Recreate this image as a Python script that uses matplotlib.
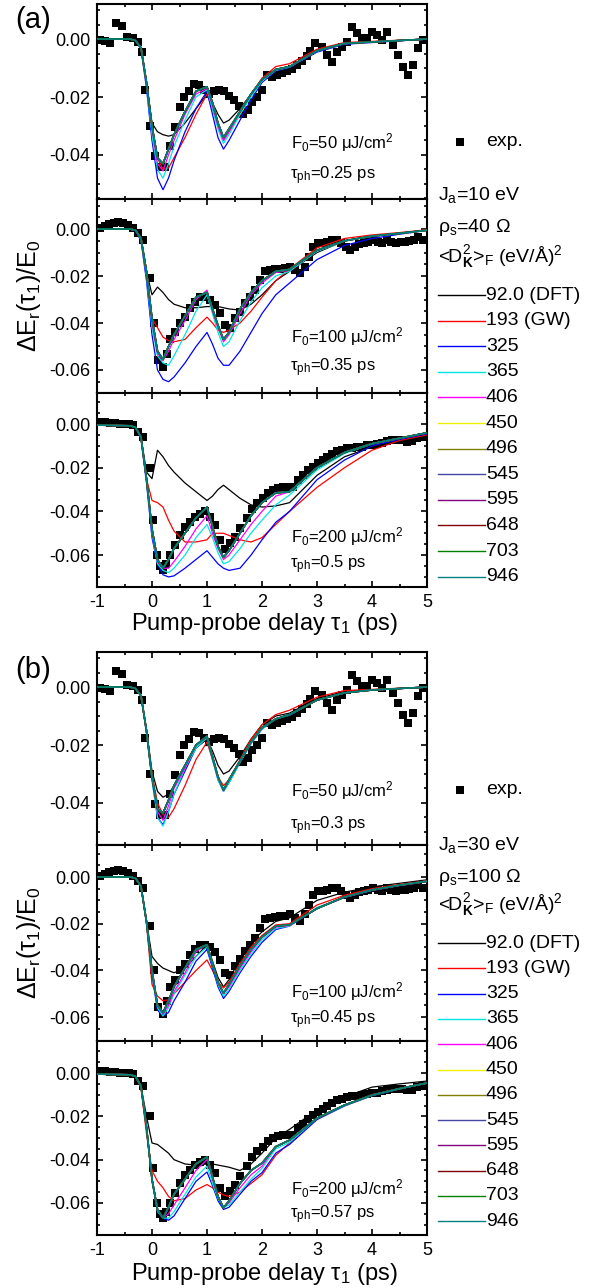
import numpy as np
import matplotlib
matplotlib.use('Agg')
import matplotlib.pyplot as plt
from matplotlib.lines import Line2D
from matplotlib.ticker import MultipleLocator, FormatStrFormatter

plt.rcParams['font.family'] = ['Liberation Sans', 'DejaVu Sans']
plt.rcParams['mathtext.fontset'] = 'custom'
plt.rcParams['mathtext.rm'] = 'Liberation Sans'
plt.rcParams['mathtext.it'] = 'Liberation Sans:italic'
plt.rcParams['mathtext.bf'] = 'Liberation Sans:bold'
plt.rcParams['axes.unicode_minus'] = False

W, H = 591, 1288

# ---------------- data ----------------
labels = ['92.0 (DFT)', '193 (GW)', '325', '365', '406', '450', '496',
          '545', '595', '648', '703', '946']
colors = ['black', '#ff0000', '#0000ff', '#00e5e5', '#ff00ff', '#f0f000',
          '#808000', '#4545a5', '#800080', '#800000', '#008000', '#008080']

# model delay grid (ps)
x_model = [-1.0, -0.4, -0.3, -0.2, -0.1, 0.0, 0.1, 0.2, 0.3, 0.4, 0.6, 0.8, 1.0,
           1.1, 1.2, 1.3, 1.4, 1.6, 1.8, 2.0, 2.25, 2.5, 3.0, 3.5, 4.0, 4.5, 5.0]

# experiment, F0 = 50 uJ/cm2
x_exp50 = [-0.95, -0.85, -0.76, -0.65, -0.55, -0.45, -0.35, -0.26, -0.19, -0.12,
           -0.04, 0.05, 0.14, 0.23, 0.32, 0.41, 0.50, 0.59, 0.68, 0.77, 0.86,
           0.95, 1.04, 1.13, 1.22, 1.31, 1.40, 1.49, 1.58, 1.66, 1.74, 1.82,
           1.91, 2.00, 2.09, 2.18, 2.27, 2.36, 2.45, 2.54, 2.63, 2.72, 2.81,
           2.88, 2.96, 3.09, 3.18, 3.27, 3.36, 3.45, 3.54, 3.63, 3.72, 3.81,
           3.90, 4.00, 4.09, 4.18, 4.27, 4.38, 4.47, 4.56, 4.65, 4.75, 4.84, 4.93]
y_exp50 = [-0.0003, -0.0008, -0.0013, 0.0055, 0.0045, 0.0007, 0.0005, -0.0010,
           -0.0045, -0.0176, -0.0300, -0.0405, -0.0440, -0.0440, -0.0370,
           -0.0305, -0.0235, -0.0200, -0.0180, -0.0155, -0.0160, -0.0175,
           -0.0190, -0.0180, -0.0175, -0.0180, -0.0195, -0.0210, -0.0230,
           -0.0260, -0.0245, -0.0217, -0.0200, -0.0176, -0.0124, -0.0130,
           -0.0124, -0.0117, -0.0110, -0.0105, -0.0090, -0.0075, -0.0060,
           -0.0040, -0.0014, -0.0028, -0.0055, -0.0079, -0.0045, -0.0028,
           -0.0010, 0.0041, 0.0020, 0.0003, 0.0003, 0.0024, 0.0014, -0.0003,
           0.0024, -0.0020, -0.0055, -0.0097, -0.0124, -0.0090, -0.0031, -0.0003]

# experiment, F0 = 100 uJ/cm2
x_exp100 = [-0.95, -0.86, -0.78, -0.70, -0.62, -0.53, -0.44, -0.35, -0.26, -0.16,
            -0.04, 0.04, 0.11, 0.20, 0.27, 0.33, 0.42, 0.51, 0.60, 0.69, 0.78,
            0.87, 0.96, 1.05, 1.14, 1.24, 1.33, 1.42, 1.50, 1.60, 1.69, 1.78,
            1.87, 1.96, 2.05, 2.14, 2.23, 2.32, 2.41, 2.50, 2.60, 2.69, 2.78,
            2.85, 2.93, 3.02, 3.10, 3.18, 3.27, 3.36, 3.44, 3.52, 3.60, 3.69,
            3.77, 3.85, 3.93, 4.02, 4.10, 4.18, 4.27, 4.35, 4.43, 4.52, 4.60,
            4.68, 4.76, 4.84, 4.93]
y_exp100 = [0.0004, 0.0012, 0.0020, 0.0025, 0.0030, 0.0025, 0.0017, 0.0004,
            -0.0017, -0.0047, -0.0210, -0.0400, -0.0557, -0.0587, -0.0530,
            -0.0470, -0.0440, -0.0400, -0.0374, -0.0336, -0.0310, -0.0290,
            -0.0290, -0.0300, -0.0323, -0.0357, -0.0410, -0.0420, -0.0380,
            -0.0353, -0.0315, -0.0290, -0.0260, -0.0217, -0.0180, -0.0174,
            -0.0172, -0.0168, -0.0166, -0.0160, -0.0174, -0.0187, -0.0160,
            -0.0120, -0.0077, -0.0060, -0.0058, -0.0055, -0.0047, -0.0047,
            -0.0060, -0.0077, -0.0090, -0.0077, -0.0065, -0.0060, -0.0055,
            -0.0047, -0.0055, -0.0060, -0.0047, -0.0055, -0.0060, -0.0055,
            -0.0055, -0.0050, -0.0047, -0.0034, -0.0047]

# experiment, F0 = 200 uJ/cm2
x_exp200 = [-0.95, -0.86, -0.77, -0.68, -0.59, -0.50, -0.42, -0.35, -0.26, -0.16,
            -0.04, 0.02, 0.09, 0.15, 0.20, 0.26, 0.33, 0.42, 0.51, 0.60, 0.69,
            0.78, 0.87, 0.96, 1.05, 1.14, 1.24, 1.33, 1.42, 1.50, 1.60, 1.72,
            1.82, 1.90, 2.02, 2.11, 2.20, 2.29, 2.38, 2.47, 2.56, 2.65, 2.74,
            2.83, 2.92, 3.01, 3.10, 3.19, 3.28, 3.37, 3.46, 3.55, 3.64, 3.73,
            3.82, 3.91, 4.00, 4.09, 4.18, 4.27, 4.36, 4.45, 4.54, 4.63, 4.72,
            4.81, 4.90]
y_exp200 = [0.0010, 0.0008, 0.0006, 0.0004, 0.0002, 0.0000, -0.0002, -0.0004,
            -0.0037, -0.0060, -0.0200, -0.0440, -0.0600, -0.0650, -0.0670,
            -0.0640, -0.0600, -0.0555, -0.0510, -0.0470, -0.0450, -0.0425,
            -0.0410, -0.0400, -0.0425, -0.0460, -0.0530, -0.0570, -0.0545,
            -0.0517, -0.0476, -0.0430, -0.0390, -0.0360, -0.0340, -0.0316,
            -0.0300, -0.0292, -0.0288, -0.0288, -0.0288, -0.0255, -0.0235,
            -0.0210, -0.0195, -0.0178, -0.0165, -0.0150, -0.0138, -0.0125,
            -0.0118, -0.0112, -0.0108, -0.0106, -0.0103, -0.0098, -0.0094,
            -0.0090, -0.0085, -0.0078, -0.0073, -0.0072, -0.0075, -0.0080,
            -0.0078, -0.0066, -0.0060]

# model curves, (a) Ja=10 eV, rho_s=40 Ohm
a50_black = [0, 0, -0.0005, -0.003, -0.015, -0.029, -0.032, -0.033, -0.0335, -0.033, -0.029, -0.024, -0.019,
             -0.022, -0.026, -0.029, -0.028, -0.024, -0.019, -0.014, -0.0105, -0.0095, -0.004, -0.0015, -0.001, -0.0005, 0.0]
a50_red = [0, 0, -0.0005, -0.003, -0.015, -0.031, -0.041, -0.045, -0.0445, -0.041, -0.034, -0.026, -0.019,
           -0.024, -0.030, -0.035, -0.032, -0.026, -0.019, -0.0135, -0.0095, -0.0085, -0.0035, -0.0012, -0.0008, -0.0004, 0.0]
a50_blue = [0, 0, -0.0005, -0.0035, -0.017, -0.035, -0.048, -0.052, -0.048, -0.042, -0.032, -0.024, -0.018,
            -0.026, -0.034, -0.038, -0.035, -0.028, -0.021, -0.015, -0.011, -0.0098, -0.0045, -0.0018, -0.0012, -0.0006, -0.0001]
a50_cyan = [0, 0, -0.0005, -0.003, -0.016, -0.033, -0.045, -0.048, -0.043, -0.037, -0.028, -0.020, -0.0175,
            -0.024, -0.031, -0.036, -0.033, -0.026, -0.020, -0.0145, -0.0108, -0.0097, -0.0042, -0.0016, -0.0011, -0.0005, 0.0]
a50_magenta = [0, 0, -0.0005, -0.003, -0.0155, -0.031, -0.043, -0.0455, -0.040, -0.035, -0.026, -0.019, -0.017,
               -0.023, -0.030, -0.035, -0.032, -0.025, -0.019, -0.014, -0.0105, -0.0095, -0.004, -0.0015, -0.001, -0.0005, 0.0]
a50_rest = [0, 0, -0.0005, -0.003, -0.015, -0.030, -0.041, -0.043, -0.038, -0.033, -0.025, -0.018, -0.0165,
            -0.022, -0.029, -0.034, -0.031, -0.025, -0.019, -0.014, -0.0105, -0.0095, -0.004, -0.0015, -0.001, -0.0005, 0.0]

a100_black = [0, 0, -0.0005, -0.004, -0.018, -0.028, -0.0247, -0.027, -0.030, -0.032, -0.0335, -0.0335, -0.033,
              -0.033, -0.033, -0.0335, -0.034, -0.0345, -0.032, -0.028, -0.022, -0.018, -0.010, -0.005, -0.003, -0.0018, -0.0005]
a100_red = [0, 0, -0.0005, -0.004, -0.020, -0.038, -0.042, -0.046, -0.0475, -0.048, -0.047, -0.042, -0.0375,
            -0.040, -0.043, -0.044, -0.043, -0.040, -0.035, -0.029, -0.022, -0.017, -0.008, -0.004, -0.0025, -0.0015, -0.0003]
a100_blue = [0, 0, -0.0008, -0.005, -0.022, -0.045, -0.060, -0.064, -0.065, -0.063, -0.057, -0.050, -0.044,
             -0.049, -0.055, -0.058, -0.058, -0.052, -0.044, -0.036, -0.028, -0.023, -0.013, -0.007, -0.004, -0.0022, -0.0006]
a100_cyan = [0, 0, -0.0005, -0.0045, -0.020, -0.042, -0.054, -0.057, -0.058, -0.054, -0.045, -0.035, -0.028,
             -0.036, -0.044, -0.050, -0.048, -0.039, -0.031, -0.025, -0.020, -0.018, -0.0095, -0.0052, -0.0031, -0.0019, -0.0005]
a100_magenta = [0, 0, -0.0005, -0.004, -0.019, -0.040, -0.053, -0.056, -0.052, -0.047, -0.039, -0.030, -0.026,
                -0.035, -0.042, -0.048, -0.045, -0.036, -0.028, -0.023, -0.0185, -0.0175, -0.0092, -0.005, -0.003, -0.0018, -0.0005]
a100_rest = [0, 0, -0.0005, -0.004, -0.018, -0.038, -0.052, -0.0555, -0.050, -0.045, -0.037, -0.029, -0.027,
             -0.034, -0.041, -0.047, -0.044, -0.034, -0.027, -0.022, -0.018, -0.0172, -0.009, -0.005, -0.003, -0.0018, -0.0005]

a200_black = [-0.0005, -0.0008, -0.0015, -0.006, -0.022, -0.025, -0.012, -0.015, -0.019, -0.022, -0.027, -0.031, -0.035,
              -0.033, -0.030, -0.028, -0.030, -0.034, -0.037, -0.038, -0.0375, -0.036, -0.0235, -0.015, -0.0105, -0.0075, -0.0045]
a200_red = [-0.0005, -0.0008, -0.0015, -0.006, -0.025, -0.035, -0.036, -0.038, -0.044, -0.049, -0.054, -0.054, -0.053,
            -0.050, -0.050, -0.050, -0.051, -0.053, -0.054, -0.052, -0.046, -0.040, -0.029, -0.020, -0.012, -0.0075, -0.005]
a200_blue = [-0.0005, -0.0008, -0.0015, -0.007, -0.027, -0.052, -0.064, -0.069, -0.070, -0.0695, -0.066, -0.062, -0.058,
             -0.061, -0.064, -0.066, -0.067, -0.066, -0.060, -0.053, -0.045, -0.040, -0.0255, -0.0165, -0.010, -0.007, -0.0045]
a200_cyan = [-0.0005, -0.0008, -0.0015, -0.006, -0.026, -0.050, -0.064, -0.067, -0.068, -0.066, -0.060, -0.052, -0.046,
             -0.052, -0.059, -0.064, -0.063, -0.057, -0.050, -0.044, -0.037, -0.0325, -0.021, -0.0135, -0.0092, -0.0066, -0.004]
a200_magenta = [-0.0005, -0.0008, -0.0015, -0.006, -0.025, -0.049, -0.063, -0.066, -0.066, -0.063, -0.056, -0.048, -0.042,
                -0.050, -0.057, -0.062, -0.060, -0.053, -0.046, -0.040, -0.033, -0.031, -0.020, -0.013, -0.009, -0.0065, -0.004]
a200_rest = [-0.0005, -0.0008, -0.0015, -0.006, -0.025, -0.048, -0.062, -0.066, -0.062, -0.057, -0.050, -0.043, -0.038,
             -0.047, -0.056, -0.061, -0.058, -0.050, -0.042, -0.036, -0.0315, -0.031, -0.020, -0.013, -0.009, -0.0065, -0.004]

# model curves, (b) Ja=30 eV, rho_s=100 Ohm
b50_black = [0, 0, -0.0005, -0.003, -0.015, -0.029, -0.036, -0.038, -0.037, -0.034, -0.027, -0.021, -0.018,
             -0.022, -0.027, -0.030, -0.029, -0.024, -0.018, -0.013, -0.010, -0.009, -0.004, -0.0015, -0.001, -0.0005, 0.0]
b50_red = [0, 0, -0.0005, -0.003, -0.015, -0.030, -0.040, -0.044, -0.045, -0.042, -0.034, -0.025, -0.019,
           -0.025, -0.031, -0.034, -0.032, -0.025, -0.018, -0.013, -0.0095, -0.008, -0.0035, -0.0012, -0.0008, -0.0004, 0.0]
b50_blue = [0, 0, -0.0005, -0.003, -0.016, -0.032, -0.045, -0.0475, -0.043, -0.037, -0.029, -0.021, -0.0175,
            -0.025, -0.032, -0.036, -0.033, -0.026, -0.0195, -0.0145, -0.011, -0.0097, -0.0045, -0.002, -0.0011, -0.0005, 0.0]
b50_cyan = [0, 0, -0.0005, -0.003, -0.016, -0.032, -0.045, -0.048, -0.043, -0.037, -0.028, -0.021, -0.0175,
            -0.025, -0.032, -0.036, -0.033, -0.026, -0.0195, -0.0145, -0.011, -0.0097, -0.0045, -0.002, -0.0011, -0.0005, 0.0]
b50_magenta = [0, 0, -0.0005, -0.003, -0.0155, -0.031, -0.043, -0.046, -0.041, -0.035, -0.028, -0.020, -0.017,
               -0.024, -0.031, -0.0355, -0.032, -0.0255, -0.019, -0.014, -0.011, -0.0095, -0.0045, -0.002, -0.001, -0.0005, 0.0]
b50_rest = [0, 0, -0.0005, -0.003, -0.015, -0.031, -0.042, -0.0435, -0.039, -0.034, -0.027, -0.020, -0.017,
            -0.024, -0.031, -0.0355, -0.032, -0.0255, -0.019, -0.014, -0.011, -0.0095, -0.0045, -0.002, -0.001, -0.0005, 0.0]

b100_black = [0, 0, -0.0005, -0.004, -0.019, -0.034, -0.037, -0.039, -0.040, -0.041, -0.039, -0.034, -0.029,
              -0.036, -0.043, -0.047, -0.044, -0.035, -0.028, -0.0235, -0.019, -0.0175, -0.010, -0.0065, -0.0042, -0.0027, -0.0012]
b100_red = [0, 0, -0.0005, -0.004, -0.020, -0.046, -0.051, -0.053, -0.0525, -0.050, -0.045, -0.040, -0.0355,
            -0.040, -0.045, -0.0475, -0.045, -0.037, -0.030, -0.025, -0.0205, -0.020, -0.012, -0.0078, -0.005, -0.0032, -0.0016]
b100_blue = [0, 0, -0.0005, -0.004, -0.020, -0.042, -0.057, -0.0595, -0.058, -0.053, -0.045, -0.036, -0.031,
             -0.039, -0.047, -0.052, -0.049, -0.041, -0.034, -0.028, -0.0225, -0.021, -0.0135, -0.0088, -0.0058, -0.0037, -0.002]
b100_cyan = [0, 0, -0.0005, -0.004, -0.020, -0.041, -0.056, -0.0595, -0.056, -0.050, -0.042, -0.034, -0.030,
             -0.038, -0.046, -0.051, -0.048, -0.040, -0.033, -0.027, -0.022, -0.021, -0.013, -0.0087, -0.0057, -0.0036, -0.0019]
b100_magenta = [0, 0, -0.0005, -0.004, -0.019, -0.040, -0.055, -0.0585, -0.055, -0.049, -0.041, -0.032, -0.029,
                -0.037, -0.045, -0.050, -0.047, -0.039, -0.032, -0.026, -0.0215, -0.0208, -0.0135, -0.0086, -0.0056, -0.0036, -0.0019]
b100_rest = [0, 0, -0.0005, -0.004, -0.019, -0.040, -0.055, -0.058, -0.053, -0.047, -0.039, -0.031, -0.029,
             -0.037, -0.045, -0.0497, -0.046, -0.038, -0.031, -0.0257, -0.021, -0.0205, -0.0135, -0.0085, -0.0055, -0.0035, -0.0018]

b200_black = [-0.0005, -0.0008, -0.0015, -0.006, -0.020, -0.0323, -0.033, -0.035, -0.037, -0.040, -0.042, -0.0425, -0.042,
              -0.042, -0.0425, -0.043, -0.0435, -0.045, -0.042, -0.037, -0.030, -0.026, -0.017, -0.011, -0.0065, -0.005, -0.0037]
b200_red = [-0.0005, -0.0008, -0.0015, -0.007, -0.028, -0.045, -0.050, -0.053, -0.057, -0.059, -0.058, -0.054, -0.0515,
            -0.053, -0.055, -0.0563, -0.057, -0.055, -0.051, -0.047, -0.038, -0.0323, -0.021, -0.0148, -0.010, -0.0072, -0.0045]
b200_blue = [-0.0005, -0.0008, -0.0015, -0.006, -0.026, -0.050, -0.064, -0.067, -0.068, -0.066, -0.058, -0.050, -0.0457,
             -0.052, -0.059, -0.063, -0.062, -0.056, -0.050, -0.046, -0.037, -0.033, -0.0215, -0.0152, -0.0105, -0.0074, -0.0047]
b200_cyan = [-0.0005, -0.0008, -0.0015, -0.006, -0.026, -0.050, -0.064, -0.067, -0.067, -0.064, -0.056, -0.048, -0.043,
             -0.051, -0.058, -0.062, -0.061, -0.055, -0.049, -0.044, -0.035, -0.032, -0.021, -0.015, -0.0104, -0.0073, -0.0046]
b200_magenta = [-0.0005, -0.0008, -0.0015, -0.006, -0.025, -0.049, -0.063, -0.067, -0.065, -0.061, -0.053, -0.045, -0.040,
                -0.049, -0.057, -0.062, -0.060, -0.053, -0.047, -0.043, -0.034, -0.031, -0.0208, -0.0148, -0.0102, -0.0072, -0.0046]
b200_rest = [-0.0005, -0.0008, -0.0015, -0.006, -0.025, -0.049, -0.063, -0.067, -0.062, -0.056, -0.049, -0.042, -0.0388,
             -0.048, -0.057, -0.0623, -0.059, -0.051, -0.045, -0.0416, -0.034, -0.031, -0.0208, -0.0148, -0.0102, -0.0072, -0.0046]

# panel layout: (top px, bottom px, ylim, curves, exp x, exp y, fluence text, tau text, text y)
panels = [
    (4, 199, (-0.0552, 0.0121), [a50_black, a50_red, a50_blue, a50_cyan, a50_magenta, a50_rest],
     x_exp50, y_exp50, 'F$_0$=50 μJ/cm$^2$', 'τ$_{\\rm ph}$=0.25 ps', (0.287, 0.118)),
    (199, 393, (-0.0698, 0.0128), [a100_black, a100_red, a100_blue, a100_cyan, a100_magenta, a100_rest],
     x_exp100, y_exp100, 'F$_0$=100 μJ/cm$^2$', 'τ$_{\\rm ph}$=0.35 ps', (0.289, 0.129)),
    (393, 587, (-0.0746, 0.0142), [a200_black, a200_red, a200_blue, a200_cyan, a200_magenta, a200_rest],
     x_exp200, y_exp200, 'F$_0$=200 μJ/cm$^2$', 'τ$_{\\rm ph}$=0.5 ps', (0.258, 0.113)),
    (652, 845, (-0.0545, 0.0121), [b50_black, b50_red, b50_blue, b50_cyan, b50_magenta, b50_rest],
     x_exp50, y_exp50, 'F$_0$=50 μJ/cm$^2$', 'τ$_{\\rm ph}$=0.3 ps', (0.28, 0.10)),
    (845, 1041, (-0.0702, 0.0137), [b100_black, b100_red, b100_blue, b100_cyan, b100_magenta, b100_rest],
     x_exp100, y_exp100, 'F$_0$=100 μJ/cm$^2$', 'τ$_{\\rm ph}$=0.45 ps', (0.25, 0.107)),
    (1041, 1235, (-0.0748, 0.0148), [b200_black, b200_red, b200_blue, b200_cyan, b200_magenta, b200_rest],
     x_exp200, y_exp200, 'F$_0$=200 μJ/cm$^2$', 'τ$_{\\rm ph}$=0.57 ps', (0.242, 0.103)),
]

fig = plt.figure(figsize=(W / 100, H / 100), dpi=100)

axes = []
for i, (top, bot, ylim, curves, xe, ye, ftxt, ttxt, ty) in enumerate(panels):
    ax = fig.add_axes([97 / W, 1 - bot / H, 330 / W, (bot - top) / H])
    ax.plot(xe, ye, 's', color='black', ms=5.8, mew=0, zorder=2)
    for k in range(12):
        ax.plot(x_model, curves[min(k, 5)], color=colors[k], lw=0.9 if k < 5 else 1.1, zorder=3)
    ax.set_xlim(-1, 5)
    ax.set_ylim(*ylim)
    ax.xaxis.set_major_locator(MultipleLocator(1))
    ax.xaxis.set_minor_locator(MultipleLocator(0.5))
    ax.yaxis.set_major_locator(MultipleLocator(0.02))
    ax.yaxis.set_minor_locator(MultipleLocator(0.005))
    ax.yaxis.set_major_formatter(FormatStrFormatter('%.2f'))
    ax.tick_params(which='both', direction='in', top=True, right=True, width=1.2, labelsize=13)
    ax.tick_params(which='major', length=4.5, pad=5)
    ax.tick_params(which='minor', length=2.5)
    for s in ax.spines.values():
        s.set_linewidth(1.5)
    if i % 3 != 2:
        ax.tick_params(labelbottom=False)
    ax.text(0.588, ty[0], ftxt, transform=ax.transAxes, fontsize=12, va='center')
    ax.text(0.585, ty[1], ttxt, transform=ax.transAxes, fontsize=12, va='center')
    axes.append(ax)


def fx(px):
    return px / W


def fy(py):
    return 1 - py / H


# axis labels and panel tags
for ylab_y, xlab_y, tag, tag_y in [(296, 624, '(a)', 20), (943, 1274, '(b)', 670)]:
    fig.text(fx(29), fy(ylab_y), 'ΔE$_{\\rm r}$(τ$_1$)/E$_0$', rotation=90,
             ha='center', va='center', fontsize=18)
    fig.text(fx(264), fy(xlab_y), 'Pump-probe delay τ$_1$ (ps)', ha='center',
             va='center', fontsize=17)
    fig.text(fx(33), fy(tag_y), tag, ha='center', va='center', fontsize=21)


# right-hand keys
def draw_key(y_exp, ja, rho, y_ja, y_rho, y_d, y_row0, step):
    fig.add_artist(Line2D([fx(460)], [fy(y_exp)], marker='s', color='black', ms=5.8,
                          mew=0, transform=fig.transFigure))
    fig.text(fx(486), fy(y_exp), 'exp.', va='center', fontsize=14)
    fig.text(fx(438), fy(y_ja), ja, va='center', fontsize=14)
    fig.text(fx(438), fy(y_rho), rho, va='center', fontsize=14)
    fig.text(fx(438), fy(y_d), '<D$^2_{\\mathbf{K}}$>$_{\\rm F}$ (eV/Å)$^2$', va='center', fontsize=14)
    for k in range(12):
        y = y_row0 + k * step
        fig.add_artist(Line2D([fx(438), fx(485)], [fy(y), fy(y)], color=colors[k], lw=1,
                              transform=fig.transFigure))
        fig.text(fx(486), fy(y), labels[k], va='center', fontsize=14)


draw_key(142, 'J$_{\\rm a}$=10 eV', 'ρ$_{\\rm s}$=40 Ω', 195, 227, 257, 295, 25.6)
draw_key(790, 'J$_{\\rm a}$=30 eV', 'ρ$_{\\rm s}$=100 Ω', 845, 877, 905, 943, 25.3)

fig.savefig('out.png', dpi=100)
